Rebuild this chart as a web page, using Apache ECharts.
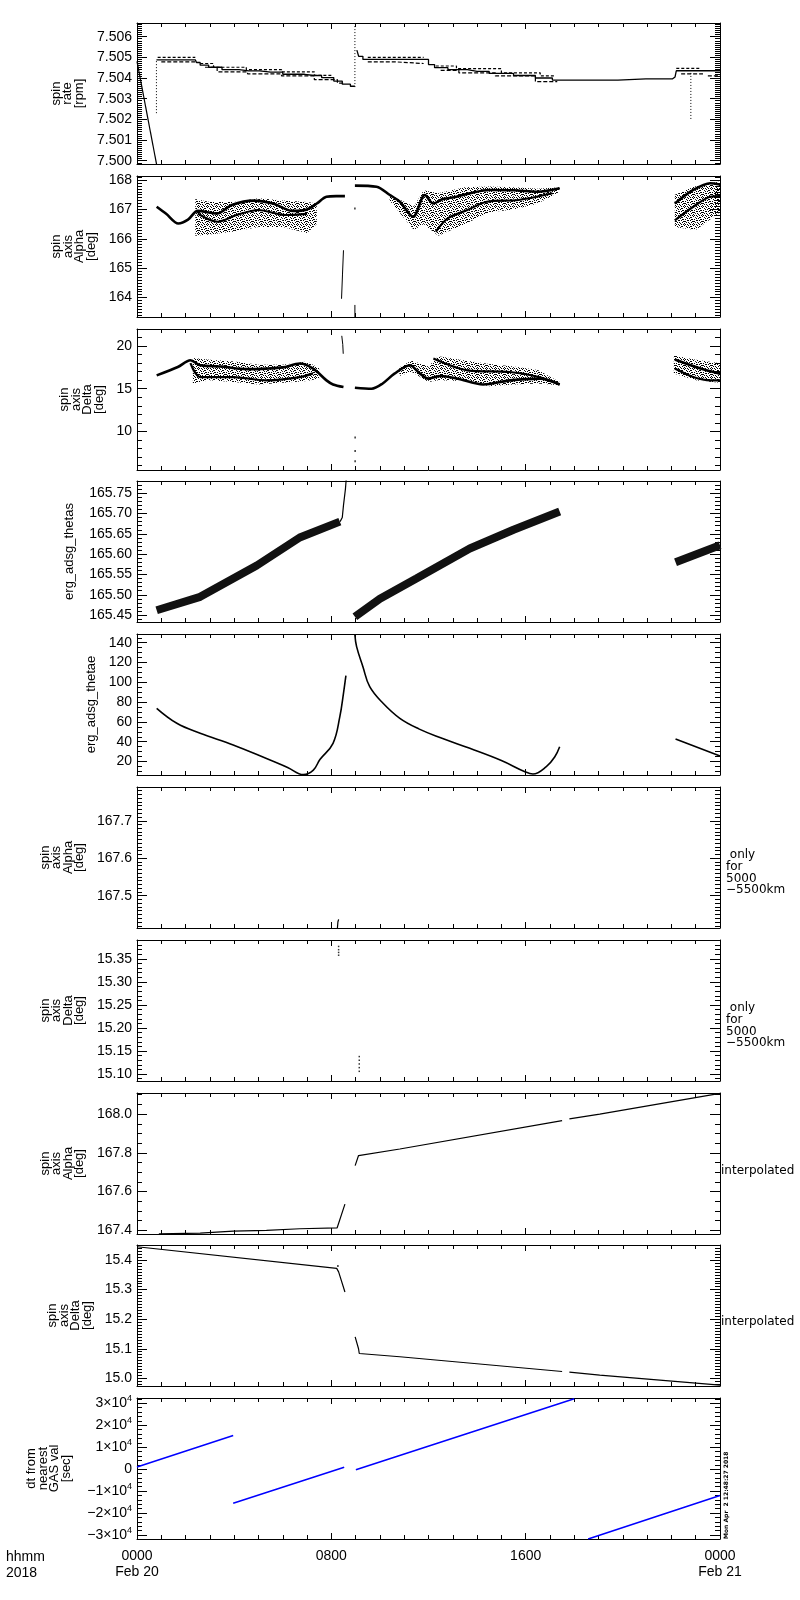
<!DOCTYPE html>
<html lang="en">
<head>
<meta charset="UTF-8">
<script src="https://cdn.jsdelivr.net/npm/echarts@6/dist/echarts.min.js"></script>
<title>spin axis</title>
<style>
  body { margin: 0; background: #fff; }
  #main { width: 800px; height: 1600px; }
</style>
</head>
<body>
<div id="main"></div>
<script type="text/javascript">
// ---- x axis (hours from 2018-02-20 00:00) ----
var hourTicks = [0, 8, 16, 24];
var hourLabels = ['0000\nFeb 20', '0800', '1600', '0000\nFeb 21'];

// ---- tick label values per panel ----
var rateTicks = [7.500, 7.501, 7.502, 7.503, 7.504, 7.505, 7.506];
var alphaTicks = [164, 165, 166, 167, 168];
var deltaTicks = [10, 15, 20];
var thetasTicks = [165.45, 165.50, 165.55, 165.60, 165.65, 165.70, 165.75];
var thetaeTicks = [20, 40, 60, 80, 100, 120, 140];
var alphaOnlyTicks = [167.5, 167.6, 167.7];
var deltaOnlyTicks = [15.10, 15.15, 15.20, 15.25, 15.30, 15.35];
var alphaInterpTicks = [167.4, 167.6, 167.8, 168.0];
var deltaInterpTicks = [15.0, 15.1, 15.2, 15.3, 15.4];
var dtTicks = [-30000, -20000, -10000, 0, 10000, 20000, 30000];

// ---- panel 1: spin rate ----
var rateDrop = [[0, 7.5048], [0.81, 7.4998]];
var rateMain = [[0.8, 7.50488], [2.4, 7.50488], [2.5, 7.50475], [2.7, 7.50462], [3.2, 7.50452], [3.8, 7.50440],
  [4.6, 7.50434], [5.5, 7.50428], [6.5, 7.50418], [7.3, 7.50412], [7.9, 7.50402], [8.3, 7.50385], [8.6, 7.50370],
  [8.97, 7.50360], null, [9.05, 7.50535], [9.2, 7.50505], [9.4, 7.50490], [11.9, 7.50490], [12.1, 7.50465],
  [12.4, 7.50450], [13.2, 7.50440], [14.0, 7.50432], [15.0, 7.50422], [16.0, 7.50412], [16.8, 7.50400],
  [17.4, 7.50390], [19.8, 7.50390], [19.85, 7.50396], [22.05, 7.50396], [22.15, 7.50405], [22.25, 7.50435],
  [24, 7.50435]];
var rateUpper = [[0.85, 7.50500], [2.4, 7.50500], null, [2.6, 7.50470], [3.7, 7.50452], [5.3, 7.50440],
  [6.6, 7.50430], [8.0, 7.50413], null, [9.5, 7.50500], [11.8, 7.50500], null, [12.3, 7.50458], [14, 7.50445],
  [16, 7.50425], [17.2, 7.50410], null, [22.2, 7.50447], [23.2, 7.50447]];
var rateLower = [[1.0, 7.50478], [2.4, 7.50478], null, [2.8, 7.50452], [3.8, 7.50430], [5.3, 7.50420],
  [6.6, 7.50410], [8.0, 7.50392], [8.5, 7.50375], null, [9.5, 7.50478], [11.8, 7.50470], null, [12.5, 7.50437],
  [14, 7.50425], [15.5, 7.50410], [17.3, 7.50382], null, [22.4, 7.50420], [23.3, 7.50420], null,
  [23.5, 7.50410], [24, 7.50410]];
var rateJumps = [[0.8, 7.5023], [0.8, 7.5049], null, [8.97, 7.50356], [8.97, 7.5067], null,
  [22.8, 7.50202], [22.8, 7.5043]];

// ---- panel 2: spin axis Alpha ----
var alphaCloud = [
  [[2.4, 166.10, 167.35], [3.0, 166.15, 167.25], [4.0, 166.25, 167.25], [5.0, 166.40, 167.38], [6.0, 166.40, 167.30], [7.0, 166.20, 167.25], [7.4, 166.50, 167.20]],
  [[10.4, 167.30, 167.50], [11.4, 166.30, 167.10], [11.8, 166.50, 167.65], [12.4, 166.10, 167.55], [13.5, 166.50, 167.75], [14.5, 166.90, 167.78], [15.5, 167.00, 167.75], [16.5, 167.20, 167.70], [17.4, 167.60, 167.75]],
  [[22.14, 166.40, 167.50], [23.0, 166.30, 167.80], [24.0, 166.90, 167.95]]
];
var alphaA = [[0.81, 167.09], [1.2, 166.85], [1.7, 166.52], [2.1, 166.65], [2.5, 166.95], [3.3, 166.86], [3.9, 167.15],
  [4.8, 167.30], [5.6, 167.20], [6.4, 166.95], [7.0, 167.00], [7.4, 167.20], [7.8, 167.43], [8.2, 167.45], [8.56, 167.45],
  null, [8.97, 167.81], [9.86, 167.77], [10.41, 167.49], [10.82, 167.26], [11.37, 166.75], [11.85, 167.49], [12.2, 167.20],
  [12.6, 167.35], [13.15, 167.43], [13.7, 167.55], [14.5, 167.66], [15.5, 167.65], [16.5, 167.60], [17.4, 167.72],
  null, [22.14, 167.20], [22.9, 167.66], [23.6, 167.89], [24, 167.85]];
var alphaB = [[2.5, 166.86], [3.3, 166.58], [4.1, 166.81], [5.0, 166.98], [6.1, 166.81], [7.0, 166.85], null,
  [12.3, 166.24], [12.8, 166.70], [13.6, 166.98], [14.4, 167.26], [15.7, 167.32], [17.1, 167.55], null,
  [22.14, 166.63], [22.9, 167.09], [23.6, 167.43], [24, 167.45]];
var alphaSpike = [[8.42, 163.96], [8.46, 164.8], [8.5, 165.61], null, [8.97, 163.75], [8.97, 163.3]];
var alphaDots = [[8.97, 167.03]];

// ---- panel 3: spin axis Delta ----
var deltaCloud = [
  [[2.3, 15.6, 18.6], [3.0, 16.0, 18.4], [4.0, 15.8, 18.2], [5.0, 15.5, 17.8], [6.0, 15.7, 17.8], [7.0, 15.9, 18.2], [7.5, 16.2, 17.4]],
  [[10.8, 16.5, 17.5], [11.3, 17.0, 18.3], [12.0, 15.8, 17.6], [12.4, 16.0, 18.8], [13.5, 15.9, 18.3], [14.5, 15.3, 17.9], [15.5, 15.5, 17.6], [16.5, 15.6, 17.2], [17.4, 15.4, 15.8]],
  [[22.1, 16.8, 18.9], [23.0, 16.0, 18.4], [24.0, 15.7, 18.0]]
];
var deltaA = [[0.81, 16.57], [1.68, 17.55], [2.2, 18.34], [2.6, 17.75], [3.5, 17.6], [4.5, 17.3], [5.33, 17.36], [6.0, 17.5],
  [6.7, 17.95], [7.25, 17.36], [7.8, 15.98], [8.07, 15.5], [8.5, 15.2], null, [8.97, 15.12], [9.66, 15.0], [10.1, 15.59],
  [10.6, 16.77], [11.23, 17.75], [11.65, 16.77], [11.99, 16.18], [12.5, 16.5], [13.2, 16.18], [14.25, 15.5], [15.35, 15.98],
  [16.6, 16.18], [17.4, 15.5], null, [22.14, 18.42], [23.2, 17.36], [24, 16.77]];
var deltaB = [[2.2, 18.0], [2.6, 16.37], [3.96, 16.37], [5.33, 15.98], [6.7, 16.37], [7.25, 16.8], null,
  [12.2, 18.54], [13.6, 17.16], [15.35, 16.96], [16.5, 16.4], [17.4, 15.5], null,
  [22.14, 17.36], [22.9, 16.37], [23.6, 15.98], [24, 15.98]];
var deltaSpike = [[8.43, 21.2], [8.47, 20.2], [8.49, 19.1]];
var deltaDots = [[8.98, 9.29], [8.98, 7.7], [8.98, 6.5]];

// ---- panel 4: erg_adsg_thetas ----
var thetasRamp = [[0.81, 165.462], [2.6, 165.495], [3.96, 165.54], [4.93, 165.572], [6.7, 165.641], [8.35, 165.68], null,
  [8.97, 165.446], [10, 165.49], [11.5, 165.54], [13.7, 165.614], [15.5, 165.66], [17.4, 165.705], null,
  [22.17, 165.58], [24, 165.622]];
var thetasSpike = [[8.36, 165.68], [8.45, 165.69], [8.5, 165.72], [8.58, 165.76], [8.62, 165.79]];

// ---- panel 5: erg_adsg_thetae ----
var thetae = [[0.81, 73.7], [1.64, 58.6], [2.6, 48.5], [3.96, 36.7], [5.33, 23.0], [6.2, 14], [6.85, 6.8], [7.26, 11.4],
  [7.53, 22], [8.07, 38.4], [8.35, 65.3], [8.5, 88.9], [8.6, 106.7], null, [8.97, 147.8], [9.04, 136], [9.3, 115.8],
  [9.58, 95.6], [10.13, 78.8], [10.82, 63.6], [11.6, 53], [12.5, 44], [13.7, 33.3], [15.0, 21], [15.97, 9.7], [16.3, 7.4],
  [16.85, 14.8], [17.2, 24.9], [17.4, 35], null, [22.17, 42.7], [24, 25.6]];

// ---- panels 6-7: only for 5000-5500km ----
var alphaOnly = [[8.24, 167.405], [8.27, 167.43], [8.3, 167.437]];
var deltaOnly = [[8.3, 15.377], [8.3, 15.370], [8.3, 15.364], [8.3, 15.358], [9.15, 15.138], [9.15, 15.130],
  [9.15, 15.122], [9.15, 15.114], [9.15, 15.106]];

// ---- panels 8-9: interpolated ----
var alphaInterp = [[0.9, 167.382], [2.6, 167.386], [3.96, 167.396], [5.33, 167.40], [6.7, 167.408], [8.24, 167.413],
  [8.56, 167.535], null, [8.98, 167.734], [9.12, 167.786], [10.82, 167.82], [17.5, 167.966], null,
  [17.8, 167.975], [19.05, 168.0], [24, 168.107]];
var deltaInterp = [[0, 15.445], [8.22, 15.372], [8.3, 15.36], [8.56, 15.292], null, [8.98, 15.14], [9.12, 15.10],
  [9.15, 15.084], [10.82, 15.073], [17.5, 15.023], null, [17.8, 15.021], [19.05, 15.011], [24, 14.977]];

// ---- panel 10: dt from nearest GAS val ----
var dtSeg = [[0, 1000], [3.96, 15300], null, [3.96, -15500], [8.53, 900], null, [9.01, -300], [18.0, 32100], null,
  [18.57, -31830], [24, -12000]];

var FONT = 'Liberation Sans';
var gridTops = [23, 176, 329, 481, 634, 787, 940, 1093, 1245, 1398];
var panels = [
  { min: 7.49984, max: 7.50666, ticks: rateTicks, minor: 0.0001, dec: 3, name: 'spin\nrate\n[rpm]', gap: 52 },
  { min: 163.34, max: 168.136, ticks: alphaTicks, minor: 0.1, dec: 0, name: 'spin\naxis\nAlpha\n[deg]', gap: 39 },
  { min: 5.48, max: 22.0, ticks: deltaTicks, minor: 1, dec: 0, name: 'spin\naxis\nDelta\n[deg]', gap: 29 },
  { min: 165.433, max: 165.780, ticks: thetasTicks, minor: 0.01, dec: 2, name: 'erg_adsg_thetas', gap: 62 },
  { min: 6.4, max: 148.8, ticks: thetaeTicks, minor: 5, dec: 0, name: 'erg_adsg_thetae', gap: 40 },
  { min: 167.414, max: 167.79, ticks: alphaOnlyTicks, minor: 0.01, dec: 1, name: 'spin\naxis\nAlpha\n[deg]', gap: 51 },
  { min: 15.085, max: 15.391, ticks: deltaOnlyTicks, minor: 0.01, dec: 2, name: 'spin\naxis\nDelta\n[deg]', gap: 51 },
  { min: 167.381, max: 168.109, ticks: alphaInterpTicks, minor: 0.05, dec: 1, name: 'spin\naxis\nAlpha\n[deg]', gap: 51 },
  { min: 14.974, max: 15.451, ticks: deltaInterpTicks, minor: 0.01, dec: 1, name: 'spin\naxis\nDelta\n[deg]', gap: 42 },
  { min: -31830, max: 32420, ticks: dtTicks, minor: 2000, dec: 0, name: 'dt from\nnearest\nGAS val\n[sec]', gap: 65 }
];

function minorValues(min, max, step, majors) {
  var out = [];
  var k0 = Math.ceil(min / step - 1e-9);
  for (var k = k0; k * step <= max + 1e-12; k++) {
    var v = +(k * step).toFixed(6);
    var isMajor = majors.some(function (m) { return Math.abs(m - v) < step * 1e-3; });
    if (!isMajor) out.push(v);
  }
  return out;
}

var hourMinor = [];
for (var h = 1; h < 24; h++) { if (h % 8) hourMinor.push(h); }

function dtLabel(v) {
  if (v === 0) return '{m|0}';
  var k = Math.abs(v / 10000);
  return '{m|' + (v < 0 ? '\u2212' : '') + k + '\u00d710}{s|4}';
}

var grids = [], xAxes = [], yAxes = [], series = [];
var black = '#000';

panels.forEach(function (p, i) {
  grids.push({ left: 137, width: 583, top: gridTops[i], height: 141, containLabel: false, outerBoundsMode: 'none' });
  var last = i === panels.length - 1;
  function xa(pos, vals, len, line, label) {
    return {
      type: 'value', gridIndex: i, min: 0, max: 24, position: pos,
      axisLine: { show: line, onZero: false, lineStyle: { color: black, width: 1 } },
      axisTick: { show: true, inside: true, length: len, customValues: vals, lineStyle: { color: black, width: 1 } },
      axisLabel: label ? {
        show: true, customValues: hourTicks, margin: 9, color: black, fontFamily: FONT, fontSize: 14, lineHeight: 16,
        formatter: function (v) { return hourLabels[hourTicks.indexOf(v)]; }
      } : { show: false },
      splitLine: { show: false }
    };
  }
  xAxes.push(xa('bottom', hourTicks, 6, true, last));
  xAxes.push(xa('bottom', hourMinor, 4, false, false));
  xAxes.push(xa('top', hourTicks, 6, true, false));
  xAxes.push(xa('top', hourMinor, 4, false, false));

  var minors = minorValues(p.min, p.max, p.minor, p.ticks);
  function ya(pos, vals, len, line, label) {
    var ax = {
      type: 'value', gridIndex: i, min: p.min, max: p.max, position: pos,
      axisLine: { show: line, onZero: false, lineStyle: { color: black, width: 1 } },
      axisTick: { show: true, inside: true, length: len, customValues: vals, lineStyle: { color: black, width: 1 } },
      axisLabel: { show: false },
      splitLine: { show: false }
    };
    if (label) {
      ax.axisLabel = {
        show: true, customValues: p.ticks, margin: 5, color: black, fontFamily: FONT, fontSize: 14,
        formatter: last ? dtLabel : function (v) { return v.toFixed(p.dec); },
        rich: { m: { fontFamily: FONT, fontSize: 14, color: black }, s: { fontFamily: FONT, fontSize: 9, color: black, padding: [0, 0, 9, 0] } }
      };
      ax.name = p.name;
      ax.nameLocation = 'middle';
      ax.nameRotate = 90;
      ax.nameGap = p.gap;
      ax.nameTextStyle = { fontFamily: FONT, fontSize: 13, lineHeight: 11.5, color: black };
    }
    return ax;
  }
  yAxes.push(ya('left', p.ticks, 10, true, true));
  yAxes.push(ya('left', minors, 5, false, false));
  yAxes.push(ya('right', p.ticks, 10, true, false));
  yAxes.push(ya('right', minors, 5, false, false));
});

function pts(arr) {
  return arr.map(function (q) { return q === null ? [NaN, NaN] : q; });
}
function line(g, data, w, type, color, step, smooth) {
  return {
    type: 'line', xAxisIndex: g * 4, yAxisIndex: g * 4, data: pts(data), showSymbol: false, symbol: 'none',
    step: step || false, smooth: smooth || false, animation: false, silent: true, clip: true,
    lineStyle: { color: color || black, width: w, type: type || 'solid', cap: 'butt' }
  };
}
function dots(g, data, size) {
  return {
    type: 'scatter', xAxisIndex: g * 4, yAxisIndex: g * 4, data: data, symbol: 'rect',
    symbolSize: size || [1.5, 2], itemStyle: { color: black }, animation: false, silent: true
  };
}

// speckled fill texture for the noisy attitude solutions
var speck = document.createElement('canvas');
speck.width = 9; speck.height = 9;
var sctx = speck.getContext('2d');
sctx.fillStyle = '#000';
[[0, 0], [4, 0], [7, 1], [2, 1], [5, 2], [8, 3], [1, 3], [3, 4], [6, 4], [0, 5], [4, 6], [7, 6], [2, 6],
 [5, 7], [1, 8], [8, 8], [3, 2], [6, 8], [8, 5], [1, 5], [4, 4], [7, 3], [0, 7], [3, 8], [6, 1]
].forEach(function (q) { sctx.fillRect(q[0], q[1], 1, 1); });

function band(g, segs) {
  var data = [];
  segs.forEach(function (s) {
    for (var k = 0; k < s.length - 1; k++) {
      data.push([s[k][0], s[k][1], s[k][2], s[k + 1][0], s[k + 1][1], s[k + 1][2]]);
    }
  });
  return {
    type: 'custom', xAxisIndex: g * 4, yAxisIndex: g * 4, data: data, animation: false, silent: true, clip: true,
    renderItem: function (params, api) {
      var a = api.coord([api.value(0), api.value(2)]);
      var b = api.coord([api.value(3), api.value(5)]);
      var c = api.coord([api.value(3), api.value(4)]);
      var d = api.coord([api.value(0), api.value(1)]);
      return { type: 'polygon', shape: { points: [a, b, c, d] }, style: { fill: { image: speck, repeat: 'repeat' }, stroke: null } };
    },
    encode: { x: [0, 3], y: [1, 2, 4, 5] }
  };
}

series.push(line(0, rateDrop, 1.2));
series.push(line(0, rateMain, 1.3, 'solid', black, 'middle'));
series.push(line(0, rateUpper, 1.2, [3, 2], black, 'middle'));
series.push(line(0, rateLower, 1.2, [4, 2], black, 'middle'));
series.push(line(0, rateJumps, 1, [1, 2]));

series.push(band(1, alphaCloud));
series.push(line(1, alphaA, 2.6, 'solid', black, false, 0.3));
series.push(line(1, alphaB, 2.2, 'solid', black, false, 0.3));
series.push(line(1, alphaSpike, 1));
series.push(dots(1, alphaDots));

series.push(band(2, deltaCloud));
series.push(line(2, deltaA, 2.6, 'solid', black, false, 0.3));
series.push(line(2, deltaB, 2.2, 'solid', black, false, 0.3));
series.push(line(2, deltaSpike, 1));
series.push(dots(2, deltaDots));

series.push(line(3, thetasRamp, 8, 'solid', '#111'));
series.push(line(3, thetasSpike, 1.2));

series.push(line(4, thetae, 1.6, 'solid', black, false, 0.4));

series.push(line(5, alphaOnly, 1.2));
series.push(dots(6, deltaOnly, [1.5, 1.5]));

series.push(line(7, alphaInterp, 1.2));
series.push(line(8, deltaInterp, 1.2));
series.push(dots(8, [[8.27, 15.38]]));

series.push(line(9, dtSeg, 1.5, 'solid', '#0000ff'));

var smallFont = '12px "DejaVu Sans"';
var graphics = [
  { type: 'text', left: 726, top: 849, style: { text: ' only\nfor\n5000\n\u22125500km', font: smallFont, lineHeight: 11.7, fill: black } },
  { type: 'text', left: 726, top: 1002, style: { text: ' only\nfor\n5000\n\u22125500km', font: smallFont, lineHeight: 11.7, fill: black } },
  { type: 'text', left: 721, top: 1165, style: { text: 'interpolated', font: smallFont, fill: black } },
  { type: 'text', left: 721, top: 1316, style: { text: 'interpolated', font: smallFont, fill: black } },
  { type: 'text', left: 6, top: 1549, style: { text: 'hhmm\n2018', font: '14px "Liberation Sans"', lineHeight: 16, fill: black } },
  { type: 'text', x: 726, y: 1539, rotation: Math.PI / 2,
    style: { text: 'Mon Apr  2 12:48:27 2018', font: 'bold 6px "DejaVu Sans"', fill: black, textAlign: 'left', textVerticalAlign: 'middle' } }
];

var chart = echarts.init(document.getElementById('main'), null, { renderer: 'canvas' });
chart.setOption({
  backgroundColor: '#fff',
  animation: false,
  grid: grids,
  xAxis: xAxes,
  yAxis: yAxes,
  series: series,
  graphic: graphics
});
</script>
</body>
</html>
